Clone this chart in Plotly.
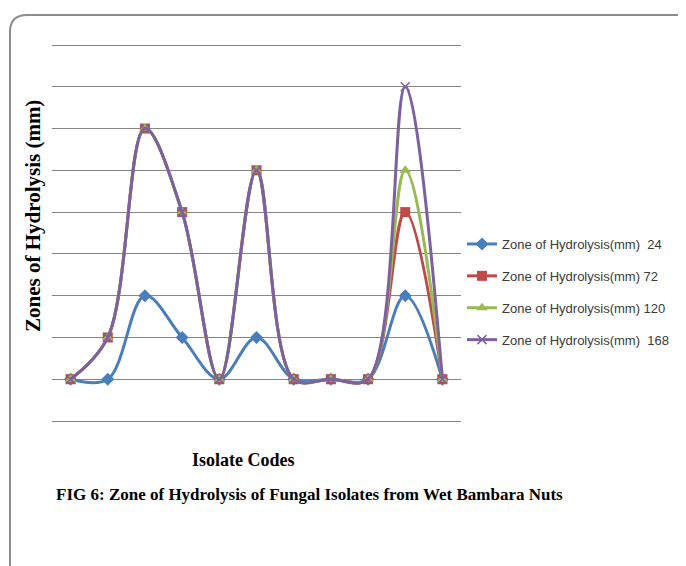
import plotly.graph_objects as go

# ---- data (in gridline units; zero baseline) ----
isolates = ["I1", "I2", "I3", "I4", "I5", "I6", "I7", "I8", "I9", "I10", "I11"]
h24 = [0, 0, 2, 1, 0, 1, 0, 0, 0, 2, 0]
h72 = [0, 1, 6, 4, 0, 5, 0, 0, 0, 4, 0]
h120 = [0, 1, 6, 4, 0, 5, 0, 0, 0, 5, 0]
h168 = [0, 1, 6, 4, 0, 5, 0, 0, 0, 7, 0]
series_names = ["Zone of Hydrolysis(mm)  24", "Zone of Hydrolysis(mm) 72",
                "Zone of Hydrolysis(mm) 120", "Zone of Hydrolysis(mm)  168"]

OFF = 8  # browser body margin
W, H = 686 - OFF, 566 - OFF
# plot area in window pixels (grid 8 at y=45, -1 at y=421)
L, R, T, B = 52 - OFF, 461 - OFF, 43 - OFF, 423 - OFF


def px(x):  # window px -> paper
    return (x - OFF - L) / (R - L)


def py(y):
    return (B - (y - OFF)) / (B - T)


styles = [
    dict(color="#4A7EBB", symbol="diamond", size=10),
    dict(color="#BE4B48", symbol="square", size=10),
    dict(color="#98B954", symbol="triangle-up", size=10),
    dict(color="#7D60A0", symbol="x-thin-open", size=9),
]

fig = go.Figure()
for i, (name, vals, st) in enumerate(zip(series_names, [h24, h72, h120, h168], styles)):
    mk = dict(symbol=st["symbol"], size=st["size"], color=st["color"])
    if st["symbol"].startswith("x-thin"):
        mk["line"] = dict(color=st["color"], width=1.5)
    fig.add_trace(go.Scatter(
        x=isolates, y=vals, name=name, mode="lines+markers",
        line=dict(color=st["color"], width=3, shape="spline", smoothing=1),
        marker=mk, legendgroup=f"g{i}",
    ))

border_path = (
    f"M {px(10)},{py(600)} L {px(10)},{py(32)} "
    f"Q {px(10)},{py(15)} {px(27)},{py(15)} L {px(720)},{py(15)}"
)

fig.update_layout(
    width=W, height=H,
    margin=dict(l=L, r=W - R, t=T, b=H - B, autoexpand=False),
    paper_bgcolor="white", plot_bgcolor="white",
    showlegend=True,
    legend=dict(x=px(462), y=py(229), xanchor="left", yanchor="top",
                font=dict(family="Liberation Sans", size=13, color="#3a3a3a"),
                tracegroupgap=12, bgcolor="rgba(0,0,0,0)"),
    xaxis=dict(showticklabels=False, showgrid=False, zeroline=False,
               showline=False, ticks="", range=[-0.5, 10.5]),
    yaxis=dict(showticklabels=False, showgrid=True, gridcolor="#868686",
               gridwidth=1, zeroline=False, showline=False, ticks="",
               range=[-1.0479, 8.0479], dtick=1, tick0=0),
    shapes=[dict(type="path", xref="paper", yref="paper", path=border_path,
                 line=dict(color="#8c8c8c", width=2))],
    annotations=[
        dict(text="<b>Zones of Hydrolysis (mm)</b>", xref="paper", yref="paper",
             x=px(33), y=py(216), xanchor="center", yanchor="middle",
             textangle=-90, showarrow=False,
             font=dict(family="Liberation Serif", size=21, color="black")),
        dict(text="<b>Isolate Codes</b>", xref="paper", yref="paper",
             x=px(243), y=py(460), xanchor="center", yanchor="middle",
             showarrow=False,
             font=dict(family="Liberation Serif", size=18, color="black")),
        dict(text="<b>FIG 6: Zone of Hydrolysis of Fungal Isolates from Wet Bambara Nuts</b>",
             xref="paper", yref="paper", x=px(54), y=py(494),
             xanchor="left", yanchor="middle", showarrow=False,
             font=dict(family="Liberation Serif", size=17, color="black")),
    ],
)

fig.write_html("out.html")
